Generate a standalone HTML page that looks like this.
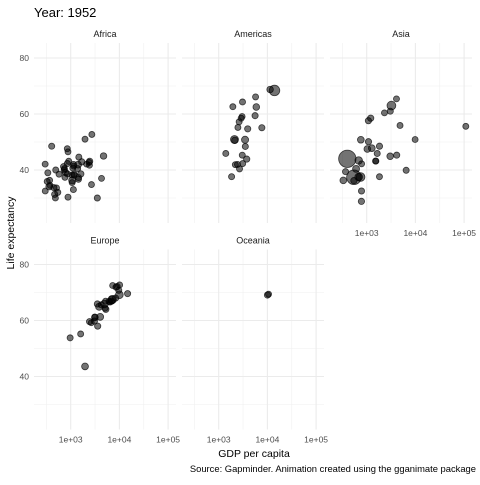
<!DOCTYPE html>
<html><head><meta charset="utf-8">
<style>
body{margin:0;background:#fff;}
svg{font-family:"Liberation Sans",sans-serif;}
</style></head>
<body>
<svg id="chart" width="480" height="480" viewBox="0 0 480 480">
<rect width="480" height="480" fill="#fff"/>
<text x="34" y="17" font-size="13" fill="#000">Year: 1952</text>
<text x="254" y="457" font-size="10.5" text-anchor="middle" fill="#000">GDP per capita</text>
<text transform="translate(14,233) rotate(-90)" font-size="10.5" text-anchor="middle" fill="#000">Life expectancy</text>
<text x="476" y="472" font-size="9.4" text-anchor="end" fill="#000">Source: Gapminder. Animation created using the gganimate package</text>
<g id="panels"></g>
</svg>
<script>
const continents = ["Africa","Americas","Asia","Europe","Oceania"];
const xTicks = [1000,10000,100000];
const xTickLabels = ["1e+03","1e+04","1e+05"];
const yTicks = [40,60,80];
const yTickLabels = ["40","60","80"];
// [gdpPercap, lifeExp, pop(millions)]
const africa = [[2449,43.1,9.3],[3521,30.0,4.2],[1063,38.2,1.7],[851,47.6,0.44],[543,32.0,4.5],[339,39.0,2.4],[1173,38.5,5.0],[1071,35.5,1.3],[1179,38.1,2.7],[1103,40.7,0.15],[781,39.1,14.1],[2126,42.1,0.85],[1389,40.5,3.0],[2670,34.8,0.06],[1419,41.9,22.2],[376,34.5,0.22],[329,35.9,1.4],[362,34.1,20.9],[4293,37.0,0.42],[485,30.0,0.28],[911,43.1,5.6],[510,33.6,2.66],[300,32.5,0.58],[854,42.3,6.5],[299,42.1,0.75],[576,38.5,0.86],[2388,42.7,1.0],[1443,36.7,4.8],[369,36.3,2.9],[452,33.7,3.8],[744,40.5,1.0],[1968,51.0,0.52],[1688,42.9,9.9],[469,31.3,6.4],[2424,41.7,0.49],[762,37.4,3.4],[1077,36.3,33.1],[2719,52.7,0.26],[493,40.0,2.5],[880,46.5,0.06],[1450,37.3,2.8],[880,30.3,2.1],[1136,33.0,2.5],[4725,45.0,14.3],[1615,38.6,8.5],[1148,41.4,0.29],[717,41.2,8.3],[859,38.6,1.2],[1469,44.6,3.6],[735,40.0,5.8],[1147,42.0,2.7],[407,48.5,3.1]];
const americas = [[5911,62.5,17.9],[2677,40.4,2.9],[2109,50.9,56.6],[11367,68.75,14.8],[3940,54.7,6.4],[2144,50.6,12.4],[2627,57.2,0.93],[5587,59.4,6.0],[1398,45.9,2.5],[3522,48.4,3.5],[3048,45.3,2.0],[2428,42.0,3.1],[1840,37.6,3.2],[2195,41.9,1.5],[2899,58.5,1.4],[3478,50.8,30.1],[3112,42.3,1.2],[2480,55.2,0.94],[1952,62.6,1.6],[3759,43.9,8.0],[3082,64.3,2.2],[3024,59.1,0.66],[13990,68.4,157.6],[5717,66.1,2.25],[7690,55.1,5.4]];
const asia = [[779,28.8,8.4],[9867,50.9,0.12],[684,37.5,46.9],[368,39.4,4.7],[400,44.0,556],[3054,61.0,2.1],[547,37.4,372],[750,37.5,82],[3035,44.9,17.3],[4130,45.3,5.4],[4087,65.4,1.6],[3217,63.0,86.5],[1547,43.2,0.6],[1088,50.1,8.9],[1031,47.5,20.9],[108382,55.6,0.16],[4835,55.9,1.4],[1831,48.5,6.7],[786,42.2,0.8],[331,36.3,20.1],[546,36.2,9.2],[1828,37.6,0.5],[685,43.4,41.3],[1273,47.8,22.4],[6460,39.9,4.0],[2315,60.4,1.1],[1084,57.6,8.0],[1644,45.9,3.7],[1207,58.5,8.6],[758,50.8,21.3],[605,40.4,26.2],[1516,43.2,1.0],[782,32.5,5.0]];
const europe = [[1601,55.2,1.3],[6137,66.8,6.9],[8343,68.0,8.7],[974,53.8,2.8],[2444,59.6,7.3],[3119,61.2,3.9],[6876,66.9,9.1],[9692,70.8,4.3],[6425,66.6,4.1],[7030,67.4,42.5],[7144,67.5,69.1],[3531,65.9,7.7],[5264,64.0,9.5],[7268,72.5,0.15],[5211,66.9,2.95],[4931,65.9,47.7],[2648,59.2,0.41],[8942,72.1,10.4],[10095,72.7,3.3],[4029,61.3,25.7],[3068,59.8,8.5],[3145,61.1,16.6],[3581,58.0,6.9],[5074,64.4,3.6],[4215,65.6,1.5],[3834,64.9,28.5],[8528,71.9,7.1],[14734,69.6,4.8],[1969,43.6,22.2],[9980,69.2,50.4]];
const oceania = [[10040,69.1,8.7],[10557,69.4,1.99]];
const seriesByContinent = [africa,americas,asia,europe,oceania];

const NS="http://www.w3.org/2000/svg";
const root=document.getElementById('panels');
function mk(tag,attrs,parent){const e=document.createElementNS(NS,tag);for(const k in attrs)e.setAttribute(k,attrs[k]);parent.appendChild(e);return e;}
const decade=48.7, x1e3=70.7, panelL=34, panelR=176;
const y80=58, perUnit=2.8, panelT=43, panelB=223;
const colOff=[0,148,296], rowOff=[0,206.5];
const popMax=556, rMin=3, rMax=8.7;
function rScale(p){return Math.sqrt(rMin*rMin+(rMax*rMax-rMin*rMin)*p/popMax);}

continents.forEach((name,i)=>{
  const col=i%3,row=Math.floor(i/3);
  const dx=colOff[col],dy=rowOff[row];
  const xS=v=>dx+x1e3+decade*(Math.log10(v)-3);
  const yS=v=>dy+y80+(80-v)*perUnit;
  const g=mk('g',{},root);
  
  
  [30,50,70].forEach(v=>{mk('line',{x1:dx+panelL,x2:dx+panelR,y1:yS(v),y2:yS(v),stroke:'#f0f0f0','stroke-width':0.6},g);});
  [Math.sqrt(10)*100,Math.sqrt(10)*1000,Math.sqrt(10)*10000].forEach(v=>{mk('line',{x1:xS(v),x2:xS(v),y1:dy+panelT,y2:dy+panelB,stroke:'#f0f0f0','stroke-width':0.6},g);});
  yTicks.forEach(v=>{const l=mk('line',{x1:dx+panelL,x2:dx+panelR,y1:yS(v),y2:yS(v),stroke:'#ebebeb','stroke-width':1.1},g);
    });
  xTicks.forEach(v=>{const l=mk('line',{x1:xS(v),x2:xS(v),y1:dy+panelT,y2:dy+panelB,stroke:'#ebebeb','stroke-width':1.1},g);
    });
  const st=mk('text',{x:dx+(panelL+panelR)/2,y:dy+37,'font-size':9,'text-anchor':'middle',fill:'#1a1a1a'},g);
  st.textContent=name;
  
  
  if(col===0){yTicks.forEach((v,k)=>{const t=mk('text',{x:29,y:yS(v)+3,'font-size':8.5,'text-anchor':'end',fill:'#4d4d4d'},g);t.textContent=yTickLabels[k];
    
    });}
  if(row===1||col===2){xTicks.forEach((v,k)=>{const t=mk('text',{x:xS(v),y:dy+panelB+13,'font-size':8.5,'text-anchor':'middle',fill:'#4d4d4d'},g);t.textContent=xTickLabels[k];
    
    });}
  const data=seriesByContinent[i].slice().sort((a,b)=>b[2]-a[2]);
  data.forEach(d=>{const c=mk('circle',{cx:xS(d[0]),cy:yS(d[1]),r:rScale(d[2]),fill:'#000','fill-opacity':0.55,stroke:'#000','stroke-opacity':0.7,'stroke-width':0.8},g);
    
    });
});
</script>
</body></html>
